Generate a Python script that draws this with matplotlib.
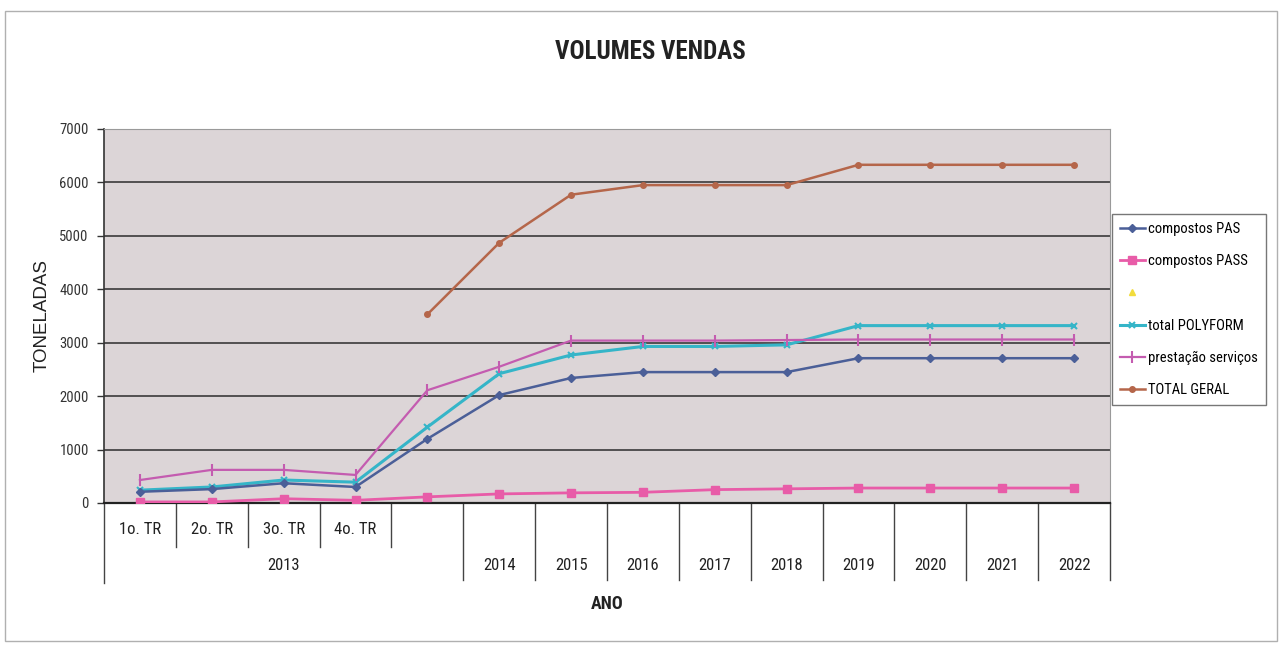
import numpy as np
import matplotlib
matplotlib.use("Agg")
import matplotlib.pyplot as plt
import matplotlib.transforms as mtransforms
from matplotlib.patches import Rectangle
from matplotlib import font_manager

# ---- data ----
quarters = ["1o. TR", "2o. TR", "3o. TR", "4o. TR", ""]
years = ["2014", "2015", "2016", "2017", "2018", "2019", "2020", "2021", "2022"]
first_year = "2013"

pas = [210, 260, 370, 300, 1200, 2020, 2340, 2450, 2450, 2450, 2710, 2710, 2710, 2710]
pass_ = [20, 20, 80, 50, 115, 170, 190, 200, 250, 265, 280, 280, 280, 280]
empty_series = [np.nan] * 14
polyform = [240, 300, 430, 390, 1420, 2420, 2770, 2930, 2930, 2960, 3320, 3320, 3320, 3320]
servicos = [430, 620, 620, 525, 2110, 2550, 3040, 3040, 3040, 3050, 3060, 3060, 3060, 3060]
total = [np.nan, np.nan, np.nan, np.nan, 3530, 4870, 5770, 5950, 5950, 5950, 6330, 6330, 6330, 6330]

series_labels = ["compostos PAS", "compostos PASS", " ", "total POLYFORM",
                 "prestação serviços", "TOTAL GERAL"]
y_ticks = [0, 1000, 2000, 3000, 4000, 5000, 6000, 7000]

names = {f.name for f in font_manager.fontManager.ttflist}
narrow = None
for cand in ["Liberation Sans Narrow", "DejaVu Sans Condensed", "Roboto Condensed",
             "Open Sans Condensed"]:
    if cand in names:
        narrow = cand
        break
if narrow is None:
    narrow = "DejaVu Sans"
    plt.rcParams["font.stretch"] = "condensed"
FONT = [narrow, "DejaVu Sans"]
plt.rcParams["font.family"] = FONT

fig = plt.figure(figsize=(12.82, 6.47), dpi=100)
ax = fig.add_axes([104/1282, 1-503/647, (1110-104)/1282, (503-129)/647])
ax.set_facecolor("#dcd5d7")

x = np.arange(len(pas))
ax.plot(x, pas, color="#4b5f98", lw=1.8, marker="D", ms=4, label=series_labels[0], zorder=4)
ax.plot(x, pass_, color="#e85ca8", lw=2.0, marker="s", ms=6, label=series_labels[1], zorder=4)
ax.plot(x, empty_series, color="#f2dc3c", lw=0, marker="^", ms=5, label=series_labels[2])
ax.plot(x, polyform, color="#35b5c8", lw=2.2, marker="x", ms=5, mew=1.5, label=series_labels[3], zorder=3)
ax.plot(x, servicos, color="#c45cb0", lw=1.6, marker="|", ms=8, mew=1.5, label=series_labels[4], zorder=3)
ax.plot(x, total, color="#b5664a", lw=1.8, marker="o", ms=4, label=series_labels[5], zorder=4)

ax.set_xlim(-0.5, len(pas) - 0.5)
ax.set_ylim(0, 7000)
ax.set_yticks(y_ticks)
ax.set_yticklabels([str(v) for v in y_ticks], fontsize=10.5, color="#333333")
ax.yaxis.grid(True, color="#3a3a3a", lw=1.2)
ax.set_axisbelow(True)
ax.tick_params(axis="y", length=5, width=1, color="#333333", pad=6)
ax.set_xticks([])
for s in ["top", "right"]:
    ax.spines[s].set_color("#9a9a9a")
    ax.spines[s].set_linewidth(0.8)
ax.spines["left"].set_color("#333333")
ax.spines["left"].set_linewidth(1.2)
ax.spines["bottom"].set_color("#222222")
ax.spines["bottom"].set_linewidth(1.6)

# ---- category table beneath x axis ----
tr = mtransforms.blended_transform_factory(ax.transData, ax.transAxes)
row1 = -0.118
row2 = -0.205
nq = len(quarters)
for i, lab in enumerate(quarters):
    if lab:
        ax.text(i, -0.072, lab, transform=tr, ha="center", va="center",
                fontsize=12, color="#222222")
for i in range(1, nq):
    ax.plot([i - 0.5, i - 0.5], [0, row1], transform=tr, color="#444444",
            lw=1.0, clip_on=False)
ax.text((nq - 1) / 2, -0.166, first_year, transform=tr, ha="center", va="center",
        fontsize=12, color="#222222")
for j, lab in enumerate(years):
    ax.text(nq + j, -0.166, lab, transform=tr, ha="center", va="center",
            fontsize=12, color="#222222")
for k in range(nq, len(pas) + 1):
    ax.plot([k - 0.5, k - 0.5], [0, row2], transform=tr, color="#444444",
            lw=1.0, clip_on=False)
ax.plot([-0.5, -0.5], [0, row2 - 0.01], transform=tr, color="#444444",
        lw=1.0, clip_on=False)

ax.set_xlabel("ANO", fontsize=13, fontweight="bold", labelpad=66, color="#222222")
ax.set_ylabel("TONELADAS", fontsize=13.5, family="Liberation Sans", labelpad=6, color="#222222")

fig.text(650/1282, 1-52/647, "VOLUMES VENDAS", ha="center", va="center",
         fontsize=18, fontweight="bold", color="#222222")

leg = fig.legend(loc="upper left", bbox_to_anchor=(1112/1282, 1-214/647),
                 frameon=True, fancybox=False, edgecolor="#555555",
                 fontsize=10.5, handlelength=1.7, labelspacing=1.25,
                 borderpad=0.55, handletextpad=0.25, borderaxespad=0)
leg.get_frame().set_linewidth(1.0)

# outer chart border
fig.patches.append(Rectangle((5/1282, 1-641/647), 1272/1282, 630/647,
                             transform=fig.transFigure, fill=False,
                             edgecolor="#b0b0b0", lw=1.0))

fig.savefig("out.png", dpi=100, facecolor="white")
